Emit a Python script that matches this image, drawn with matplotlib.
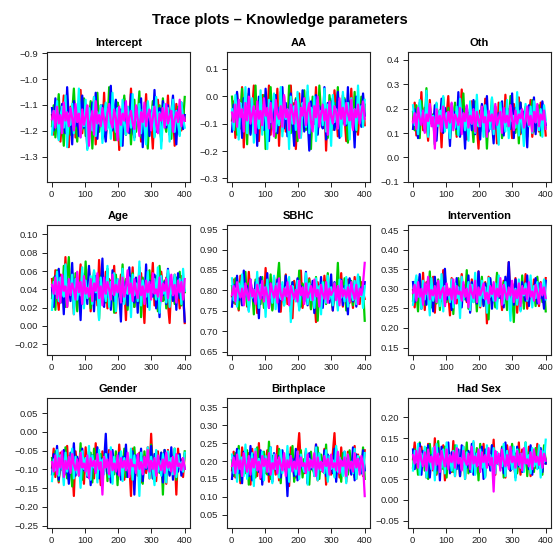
import numpy as np
from matplotlib import pyplot as plt

plt.rcParams['font.family'] = ['Liberation Sans', 'DejaVu Sans']
plt.rcParams['axes.unicode_minus'] = True

##############################################################
# trace plots for the knowledge model, 5 chains x 400 draws
# chains are stored thinned (every 5th draw) on a 0..100 scale,
# 50 = posterior mean of the parameter, 100 units = trace_span
##############################################################

params = ["Intercept", "AA", "Oth", "Age", "SBHC", "Intervention",
          "Gender", "Birthplace", "Had Sex"]

trace_center = [-1.15, -0.065, 0.16, 0.04, 0.795, 0.29, -0.088, 0.19, 0.095]
trace_span = [0.54, 0.58, 0.54, 0.16, 0.315, 0.34, 0.36, 0.40, 0.34]

y_limits = [(-1.397, -0.894), (-0.312, 0.163), (-0.099, 0.434),
            (-0.0317, 0.1102), (0.642, 0.960), (0.131, 0.463),
            (-0.256, 0.090), (0.013, 0.376), (-0.068, 0.247)]

y_ticks = [[-1.3, -1.2, -1.1, -1.0, -0.9],
           [-0.3, -0.2, -0.1, 0.0, 0.1],
           [-0.1, 0.0, 0.1, 0.2, 0.3, 0.4],
           [-0.02, 0.0, 0.02, 0.04, 0.06, 0.08, 0.10],
           [0.65, 0.70, 0.75, 0.80, 0.85, 0.90, 0.95],
           [0.15, 0.20, 0.25, 0.30, 0.35, 0.40, 0.45],
           [-0.25, -0.20, -0.15, -0.10, -0.05, 0.00, 0.05],
           [0.05, 0.10, 0.15, 0.20, 0.25, 0.30, 0.35],
           [-0.05, 0.00, 0.05, 0.10, 0.15, 0.20]]

y_decimals = [1, 1, 1, 2, 2, 2, 2, 2, 2]

x_ticks = [0, 100, 200, 300, 400]

# chains in order: red, green, blue, cyan, magenta
trace_intercept = [
    [52, 38, 61, 45, 57, 33, 49, 66, 41, 55, 29, 58, 47, 63, 36, 51, 44, 70, 39, 54, 60, 42, 35, 57, 48, 65, 31, 53, 46, 59, 40, 68, 37, 50, 56, 43, 62, 34, 47, 58, 27, 52, 45, 64, 38, 55, 49, 71, 42, 36, 57, 46, 61, 33, 50, 44, 67, 39, 53, 48, 28, 56, 41, 63, 47, 35, 59, 52, 44, 66, 38, 49, 55, 30, 60, 46, 53, 41, 57, 48],
    [44, 59, 36, 52, 67, 41, 48, 30, 56, 63, 45, 38, 54, 71, 47, 33, 58, 50, 42, 64, 37, 55, 49, 62, 28, 53, 46, 68, 40, 57, 35, 51, 60, 43, 72, 39, 52, 47, 34, 61, 56, 42, 49, 66, 38, 45, 58, 31, 54, 63, 40, 50, 69, 36, 47, 57, 43, 28, 55, 48, 62, 37, 51, 44, 59, 33, 64, 46, 40, 56, 52, 35, 61, 49, 43, 58, 38, 53, 47, 65],
    [57, 41, 64, 49, 35, 53, 60, 45, 39, 72, 48, 56, 31, 62, 44, 51, 37, 58, 66, 43, 50, 28, 55, 47, 61, 40, 68, 35, 52, 46, 59, 42, 33, 57, 49, 73, 41, 54, 63, 38, 47, 56, 30, 61, 45, 52, 39, 67, 44, 36, 58, 50, 42, 64, 29, 53, 48, 60, 37, 55, 46, 70, 40, 51, 57, 34, 62, 47, 43, 59, 38, 54, 66, 45, 31, 56, 49, 61, 42, 52],
    [38, 55, 47, 62, 34, 51, 58, 43, 66, 29, 53, 45, 60, 39, 56, 48, 71, 36, 52, 44, 63, 27, 57, 49, 41, 65, 37, 54, 46, 59, 32, 50, 61, 42, 55, 35, 68, 47, 40, 57, 52, 30, 63, 45, 38, 58, 50, 43, 67, 34, 53, 48, 60, 39, 56, 44, 31, 62, 51, 47, 58, 36, 65, 42, 54, 28, 49, 60, 45, 57, 33, 52, 63, 40, 55, 46, 37, 61, 50, 43],
    [49, 55, 43, 58, 46, 52, 39, 61, 48, 54, 44, 57, 50, 41, 60, 47, 53, 36, 56, 45, 51, 59, 30, 48, 55, 38, 62, 46, 52, 44, 57, 49, 41, 54, 60, 47, 43, 56, 50, 34, 58, 45, 53, 48, 62, 40, 51, 55, 46, 42, 59, 49, 37, 54, 47, 61, 44, 52, 56, 41, 50, 58, 45, 39, 53, 48, 57, 43, 60, 46, 51, 55, 40, 49, 54, 47, 63, 44, 52, 48]]

trace_aa = [
    [46, 58, 35, 63, 50, 41, 67, 29, 55, 48, 60, 38, 52, 68, 44, 57, 33, 49, 62, 40, 54, 46, 68, 37, 58, 51, 43, 66, 30, 56, 47, 61, 39, 53, 45, 68, 42, 57, 28, 50, 63, 36, 55, 48, 41, 64, 52, 34, 59, 45, 67, 38, 56, 49, 43, 61, 27, 53, 47, 58, 40, 65, 51, 36, 57, 44, 62, 48, 33, 55, 46, 66, 41, 52, 59, 37, 54, 47, 60, 43],
    [61, 44, 52, 37, 59, 48, 66, 40, 55, 31, 63, 47, 53, 42, 68, 36, 57, 50, 45, 62, 28, 54, 49, 67, 41, 58, 35, 52, 46, 64, 39, 56, 51, 43, 68, 38, 55, 48, 60, 33, 57, 45, 50, 65, 40, 53, 47, 28, 61, 44, 56, 38, 68, 50, 42, 59, 46, 35, 62, 53, 41, 57, 48, 67, 37, 55, 44, 60, 49, 32, 58, 51, 43, 64, 39, 54, 47, 61, 45, 56],
    [39, 56, 48, 64, 42, 53, 35, 60, 50, 45, 66, 37, 57, 43, 52, 30, 61, 47, 55, 40, 66, 49, 33, 58, 44, 51, 62, 38, 54, 46, 67, 41, 57, 36, 50, 63, 45, 30, 59, 48, 53, 42, 65, 39, 56, 47, 27, 58, 51, 44, 62, 37, 55, 49, 41, 67, 34, 57, 46, 53, 60, 40, 48, 64, 35, 52, 45, 59, 43, 67, 38, 54, 50, 29, 61, 47, 56, 42, 63, 49],
    [53, 40, 62, 47, 34, 57, 51, 44, 67, 38, 55, 46, 60, 32, 52, 48, 41, 65, 37, 56, 49, 28, 59, 45, 54, 63, 39, 50, 43, 67, 36, 58, 47, 53, 28, 61, 44, 55, 40, 64, 48, 35, 57, 51, 42, 68, 38, 54, 46, 61, 33, 59, 47, 52, 43, 66, 39, 56, 50, 30, 62, 45, 53, 41, 58, 36, 64, 49, 44, 57, 34, 60, 48, 53, 40, 68, 46, 55, 42, 59],
    [51, 45, 56, 42, 59, 48, 53, 39, 57, 46, 61, 44, 50, 55, 38, 58, 47, 52, 43, 60, 49, 54, 41, 57, 45, 36, 59, 50, 47, 55, 42, 62, 48, 53, 40, 56, 51, 44, 58, 46, 35, 54, 49, 60, 43, 52, 57, 45, 39, 55, 48, 61, 42, 50, 56, 46, 53, 37, 58, 49, 44, 55, 51, 41, 60, 47, 54, 43, 57, 50, 46, 59, 40, 53, 48, 56, 44, 51, 58, 47]]

trace_oth = [
    [48, 62, 37, 55, 44, 70, 41, 58, 50, 33, 64, 46, 53, 39, 61, 47, 56, 28, 59, 43, 52, 67, 38, 55, 45, 60, 36, 51, 49, 72, 42, 57, 34, 54, 47, 63, 40, 58, 45, 27, 56, 50, 43, 65, 37, 53, 48, 60, 41, 55, 31, 62, 46, 52, 39, 68, 44, 57, 49, 35, 61, 53, 42, 66, 38, 56, 47, 59, 43, 50, 64, 36, 54, 45, 58, 40, 62, 48, 53, 37],
    [55, 41, 60, 47, 35, 63, 52, 44, 73, 39, 57, 48, 53, 30, 61, 45, 56, 40, 66, 50, 43, 58, 34, 54, 47, 62, 38, 59, 46, 51, 69, 37, 55, 42, 58, 49, 32, 63, 45, 53, 40, 60, 47, 56, 27, 52, 44, 65, 38, 57, 50, 42, 61, 35, 54, 48, 59, 41, 67, 46, 53, 39, 56, 31, 62, 49, 44, 58, 36, 55, 47, 64, 40, 52, 45, 60, 37, 57, 51, 43],
    [42, 57, 49, 35, 62, 46, 54, 40, 68, 37, 56, 51, 44, 60, 33, 53, 47, 65, 39, 58, 45, 52, 29, 61, 48, 55, 42, 70, 36, 57, 50, 27, 59, 46, 53, 41, 64, 38, 56, 48, 34, 61, 52, 45, 67, 40, 55, 47, 31, 59, 43, 54, 49, 63, 37, 57, 46, 52, 42, 69, 35, 58, 50, 44, 62, 39, 55, 47, 28, 60, 51, 43, 66, 38, 56, 48, 41, 63, 53, 45],
    [60, 45, 53, 38, 64, 48, 55, 42, 71, 36, 58, 47, 52, 31, 62, 44, 56, 49, 67, 40, 54, 46, 35, 61, 50, 43, 59, 37, 65, 48, 53, 41, 57, 33, 63, 46, 55, 39, 68, 44, 51, 58, 36, 60, 47, 53, 42, 66, 38, 57, 49, 30, 62, 45, 54, 40, 64, 35, 58, 48, 52, 43, 70, 37, 56, 46, 29, 61, 50, 44, 59, 39, 63, 47, 55, 41, 57, 36, 60, 49],
    [47, 54, 42, 58, 50, 45, 56, 39, 53, 48, 61, 44, 51, 27, 57, 46, 52, 40, 59, 49, 43, 55, 47, 62, 41, 53, 50, 45, 58, 38, 54, 48, 60, 43, 52, 46, 57, 40, 55, 49, 44, 59, 47, 51, 36, 56, 48, 53, 42, 61, 45, 50, 55, 39, 58, 47, 52, 44, 60, 49, 41, 56, 46, 53, 50, 57, 43, 48, 59, 45, 52, 40, 55, 47, 61, 44, 53, 49, 56, 42]]

trace_age = [
    [57, 42, 63, 48, 36, 60, 51, 45, 72, 38, 55, 47, 61, 33, 58, 44, 52, 67, 40, 56, 49, 43, 64, 35, 54, 46, 59, 39, 70, 48, 53, 41, 62, 37, 57, 45, 50, 66, 34, 55, 47, 60, 42, 53, 29, 58, 49, 44, 65, 38, 56, 51, 41, 61, 46, 27, 57, 43, 52, 48, 68, 39, 55, 45, 35, 62, 50, 43, 58, 40, 27, 55, 47, 60, 44, 53, 37, 59, 48, 27],
    [44, 58, 36, 63, 49, 54, 41, 66, 38, 57, 72, 46, 52, 43, 61, 35, 56, 48, 53, 40, 69, 45, 58, 37, 51, 62, 43, 55, 30, 59, 47, 52, 41, 64, 39, 56, 49, 34, 60, 45, 53, 48, 67, 42, 57, 36, 54, 46, 61, 38, 50, 43, 65, 31, 58, 47, 55, 40, 63, 48, 52, 44, 59, 35, 66, 49, 42, 56, 37, 61, 45, 53, 50, 40, 58, 46, 62, 39, 54, 48],
    [51, 38, 59, 45, 64, 41, 55, 33, 62, 48, 53, 42, 68, 37, 57, 46, 50, 29, 61, 44, 56, 40, 66, 47, 52, 35, 59, 43, 55, 49, 71, 38, 58, 45, 53, 36, 63, 42, 50, 57, 47, 28, 60, 44, 55, 39, 65, 48, 52, 41, 58, 34, 62, 46, 54, 43, 67, 38, 56, 49, 45, 60, 37, 53, 31, 59, 46, 55, 40, 64, 47, 51, 42, 58, 36, 61, 44, 56, 49, 28],
    [36, 55, 47, 62, 42, 58, 50, 45, 67, 39, 54, 48, 60, 33, 57, 43, 52, 46, 65, 37, 56, 44, 51, 59, 40, 63, 48, 53, 29, 58, 45, 50, 42, 66, 38, 55, 47, 61, 35, 57, 49, 44, 64, 40, 52, 47, 58, 31, 60, 46, 54, 42, 69, 39, 56, 50, 45, 62, 36, 53, 48, 57, 43, 65, 34, 59, 47, 52, 41, 63, 38, 55, 46, 60, 44, 51, 57, 40, 64, 49],
    [53, 47, 58, 44, 55, 41, 60, 49, 52, 38, 57, 46, 54, 50, 43, 62, 48, 55, 40, 59, 47, 51, 45, 57, 42, 54, 49, 61, 44, 52, 39, 58, 47, 55, 50, 43, 60, 46, 53, 48, 56, 41, 58, 45, 51, 63, 47, 54, 42, 57, 49, 44, 59, 46, 52, 40, 56, 48, 55, 43, 61, 47, 50, 45, 58, 42, 54, 49, 57, 44, 52, 60, 46, 53, 41, 56, 48, 55, 43, 57]]

trace_sbhc = [
    [47, 60, 41, 55, 36, 63, 50, 44, 58, 39, 66, 48, 53, 42, 57, 34, 61, 46, 52, 40, 69, 45, 56, 49, 37, 62, 51, 43, 58, 35, 55, 47, 64, 41, 53, 48, 30, 59, 46, 54, 42, 67, 38, 56, 50, 44, 61, 37, 55, 47, 27, 58, 45, 52, 40, 63, 49, 54, 43, 59, 36, 57, 48, 51, 44, 65, 39, 55, 46, 60, 42, 53, 38, 62, 47, 56, 41, 58, 50, 45],
    [55, 42, 61, 48, 37, 58, 53, 44, 66, 40, 57, 49, 52, 33, 60, 46, 55, 41, 62, 38, 56, 50, 43, 64, 36, 54, 47, 59, 73, 45, 52, 40, 63, 48, 55, 35, 58, 46, 51, 44, 67, 39, 57, 48, 53, 42, 60, 37, 56, 45, 62, 28, 54, 49, 43, 58, 41, 65, 47, 52, 38, 57, 46, 73, 42, 55, 48, 61, 36, 53, 45, 59, 40, 56, 50, 43, 62, 47, 54, 28],
    [39, 56, 48, 63, 44, 53, 40, 67, 47, 55, 36, 60, 49, 43, 58, 51, 30, 62, 46, 54, 41, 65, 38, 57, 48, 52, 44, 60, 35, 56, 49, 42, 63, 47, 53, 39, 58, 45, 51, 61, 37, 55, 48, 43, 66, 40, 54, 46, 59, 34, 57, 50, 44, 62, 38, 53, 47, 56, 42, 64, 36, 58, 49, 51, 45, 60, 40, 55, 47, 33, 61, 52, 43, 57, 39, 63, 48, 54, 46, 58],
    [61, 44, 53, 39, 57, 47, 64, 41, 55, 50, 35, 59, 46, 52, 43, 66, 38, 56, 48, 54, 31, 60, 45, 51, 42, 63, 37, 57, 49, 45, 58, 40, 54, 47, 62, 27, 55, 48, 43, 59, 36, 53, 50, 46, 65, 41, 57, 44, 52, 38, 61, 47, 55, 33, 58, 49, 42, 63, 45, 54, 40, 57, 48, 36, 60, 46, 53, 43, 62, 39, 56, 49, 44, 59, 41, 64, 47, 52, 38, 55],
    [48, 55, 43, 58, 50, 46, 53, 40, 57, 49, 44, 60, 47, 52, 41, 56, 50, 45, 59, 43, 54, 48, 38, 57, 51, 46, 55, 42, 61, 49, 44, 53, 47, 58, 40, 55, 50, 45, 52, 43, 59, 48, 54, 41, 57, 46, 50, 55, 44, 60, 47, 52, 39, 56, 49, 45, 58, 42, 53, 48, 51, 57, 44, 55, 40, 59, 47, 52, 46, 54, 43, 58, 50, 45, 56, 41, 53, 48, 57, 73]]

trace_intervention = [
    [52, 39, 60, 46, 55, 42, 65, 37, 58, 48, 53, 41, 62, 35, 57, 47, 50, 44, 67, 40, 56, 49, 33, 61, 45, 54, 42, 59, 38, 64, 47, 52, 43, 57, 36, 60, 48, 55, 41, 66, 39, 53, 46, 58, 27, 62, 50, 44, 56, 40, 63, 47, 52, 37, 59, 45, 54, 73, 43, 57, 48, 61, 35, 55, 46, 51, 42, 64, 38, 56, 49, 44, 60, 47, 53, 40, 58, 45, 52, 61],
    [44, 58, 50, 36, 62, 47, 53, 41, 57, 45, 66, 39, 55, 48, 42, 60, 37, 54, 49, 63, 43, 52, 46, 58, 34, 56, 47, 61, 40, 53, 50, 45, 67, 38, 55, 48, 43, 59, 36, 54, 47, 62, 41, 57, 49, 30, 60, 44, 53, 39, 65, 46, 55, 42, 58, 50, 37, 61, 47, 52, 28, 57, 45, 54, 41, 63, 38, 56, 48, 44, 59, 47, 53, 40, 62, 46, 55, 43, 57, 36],
    [58, 43, 54, 47, 64, 38, 56, 50, 41, 60, 46, 53, 36, 62, 48, 55, 44, 59, 40, 68, 45, 52, 49, 37, 57, 43, 61, 47, 54, 39, 56, 51, 44, 63, 35, 58, 47, 53, 42, 66, 48, 55, 40, 57, 45, 51, 61, 38, 54, 48, 43, 59, 46, 52, 39, 62, 50, 73, 47, 56, 41, 60, 45, 53, 37, 58, 49, 44, 63, 40, 55, 47, 52, 61, 42, 57, 46, 50, 38, 59],
    [41, 55, 63, 47, 52, 38, 59, 45, 56, 49, 33, 61, 44, 53, 47, 58, 40, 64, 36, 55, 48, 51, 43, 60, 39, 57, 46, 54, 31, 62, 45, 52, 48, 58, 37, 56, 43, 65, 49, 50, 40, 59, 46, 54, 35, 61, 47, 52, 44, 57, 38, 63, 49, 55, 42, 58, 45, 50, 29, 56, 47, 53, 41, 60, 36, 54, 48, 57, 44, 51, 63, 39, 55, 46, 58, 42, 53, 49, 60, 45],
    [50, 56, 44, 58, 47, 53, 41, 57, 49, 62, 45, 52, 48, 55, 43, 59, 46, 51, 54, 40, 57, 48, 53, 45, 60, 42, 55, 49, 51, 44, 58, 47, 53, 39, 56, 50, 46, 59, 43, 54, 48, 52, 57, 45, 50, 42, 55, 49, 58, 44, 53, 47, 61, 41, 56, 50, 45, 54, 48, 59, 43, 52, 46, 57, 40, 55, 49, 53, 45, 58, 47, 51, 44, 56, 50, 42, 57, 48, 54, 46]]

trace_gender = [
    [48, 62, 41, 55, 37, 59, 46, 53, 43, 64, 39, 56, 50, 27, 60, 45, 54, 42, 58, 36, 63, 47, 52, 44, 57, 40, 66, 48, 53, 35, 60, 46, 55, 43, 61, 38, 57, 49, 52, 41, 65, 47, 54, 39, 58, 45, 51, 27, 62, 48, 55, 42, 59, 37, 56, 50, 44, 63, 40, 73, 46, 52, 38, 60, 47, 55, 43, 58, 36, 61, 49, 53, 44, 57, 28, 62, 48, 54, 41, 58],
    [55, 43, 60, 48, 38, 57, 52, 45, 63, 40, 56, 49, 34, 61, 46, 53, 42, 66, 39, 55, 48, 51, 44, 59, 37, 62, 47, 54, 41, 58, 50, 45, 64, 38, 56, 47, 52, 43, 60, 35, 57, 49, 46, 62, 41, 54, 48, 56, 39, 63, 45, 51, 44, 58, 36, 60, 47, 53, 42, 65, 40, 55, 48, 52, 44, 59, 28, 61, 49, 54, 43, 57, 46, 62, 39, 56, 48, 53, 45, 60],
    [43, 58, 50, 64, 39, 55, 47, 61, 44, 53, 36, 59, 48, 66, 42, 56, 50, 38, 62, 46, 54, 41, 60, 35, 57, 49, 45, 63, 40, 55, 48, 52, 73, 44, 58, 37, 61, 47, 54, 43, 59, 39, 56, 48, 65, 41, 53, 46, 60, 28, 57, 49, 44, 62, 38, 55, 47, 51, 43, 64, 40, 58, 48, 53, 45, 59, 37, 61, 46, 54, 42, 63, 39, 56, 50, 45, 58, 42, 55, 47],
    [38, 54, 46, 61, 42, 57, 50, 35, 59, 45, 53, 48, 62, 40, 56, 44, 51, 33, 60, 47, 55, 42, 64, 39, 57, 48, 53, 37, 61, 46, 54, 43, 58, 50, 41, 63, 36, 56, 48, 52, 45, 60, 38, 55, 47, 51, 43, 62, 39, 57, 46, 54, 27, 59, 44, 52, 48, 63, 40, 56, 47, 35, 61, 45, 53, 42, 58, 49, 37, 60, 46, 55, 43, 62, 41, 57, 48, 52, 45, 59],
    [52, 45, 57, 43, 55, 48, 60, 41, 53, 47, 56, 44, 58, 50, 46, 54, 42, 59, 48, 51, 45, 57, 40, 55, 49, 53, 44, 58, 47, 52, 28, 56, 48, 54, 43, 60, 46, 51, 45, 57, 42, 55, 48, 53, 46, 59, 41, 54, 49, 50, 44, 58, 47, 52, 43, 56, 48, 61, 45, 53, 47, 55, 42, 57, 50, 46, 54, 44, 59, 48, 52, 45, 56, 43, 58, 49, 51, 46, 55, 47]]

trace_birthplace = [
    [46, 59, 41, 55, 50, 37, 62, 48, 54, 43, 58, 36, 61, 47, 53, 42, 65, 40, 56, 49, 44, 60, 38, 57, 46, 52, 43, 63, 39, 55, 48, 51, 45, 59, 35, 62, 47, 54, 41, 58, 72, 49, 53, 44, 60, 37, 56, 47, 52, 42, 64, 39, 57, 48, 45, 61, 36, 55, 50, 43, 58, 72, 47, 53, 41, 62, 45, 56, 38, 59, 48, 52, 44, 63, 40, 57, 46, 54, 42, 60],
    [53, 42, 58, 47, 63, 39, 55, 49, 44, 60, 36, 57, 48, 52, 41, 62, 45, 54, 38, 59, 50, 43, 66, 40, 56, 47, 51, 44, 61, 37, 58, 49, 53, 42, 57, 46, 63, 38, 55, 48, 45, 60, 41, 54, 47, 52, 36, 59, 46, 55, 43, 62, 40, 57, 49, 44, 64, 39, 53, 48, 56, 42, 61, 45, 52, 38, 58, 47, 54, 43, 60, 46, 51, 41, 57, 49, 55, 44, 62, 40],
    [40, 56, 48, 61, 44, 53, 37, 59, 46, 54, 42, 63, 39, 57, 48, 52, 45, 60, 36, 55, 47, 53, 43, 62, 38, 58, 49, 44, 56, 41, 60, 47, 52, 28, 57, 46, 54, 42, 61, 39, 56, 48, 51, 45, 59, 37, 58, 47, 53, 43, 64, 40, 55, 49, 46, 60, 42, 57, 48, 52, 44, 61, 38, 56, 47, 53, 45, 59, 41, 55, 50, 43, 62, 39, 57, 48, 54, 44, 60, 46],
    [57, 44, 52, 38, 60, 47, 55, 42, 64, 40, 53, 48, 58, 35, 61, 46, 54, 43, 59, 39, 56, 49, 45, 62, 37, 57, 47, 53, 41, 60, 44, 55, 48, 63, 38, 56, 46, 52, 43, 59, 40, 57, 49, 45, 61, 36, 54, 48, 53, 42, 62, 39, 58, 46, 51, 44, 60, 38, 56, 47, 53, 41, 63, 45, 55, 49, 42, 59, 37, 57, 48, 52, 44, 61, 40, 56, 47, 54, 43, 58],
    [49, 55, 44, 57, 47, 53, 42, 58, 50, 45, 56, 43, 54, 48, 59, 46, 52, 41, 56, 49, 54, 45, 58, 43, 51, 47, 57, 44, 55, 50, 46, 58, 42, 53, 48, 56, 45, 52, 47, 59, 43, 55, 49, 51, 44, 57, 46, 53, 48, 58, 42, 55, 47, 52, 45, 56, 49, 54, 43, 57, 48, 51, 46, 59, 44, 53, 49, 55, 42, 57, 47, 52, 45, 58, 48, 54, 43, 56, 50, 28]]

trace_hadsex = [
    [51, 63, 45, 58, 41, 60, 49, 55, 38, 62, 47, 54, 43, 66, 40, 57, 50, 45, 61, 36, 58, 48, 53, 42, 64, 39, 56, 47, 52, 44, 60, 37, 57, 49, 54, 43, 63, 41, 55, 48, 50, 45, 62, 39, 58, 47, 53, 44, 65, 40, 56, 49, 51, 46, 59, 38, 61, 50, 43, 57, 47, 54, 42, 63, 40, 58, 48, 55, 44, 60, 39, 56, 50, 45, 62, 47, 53, 42, 59, 48],
    [45, 58, 52, 40, 63, 48, 55, 43, 59, 37, 62, 50, 46, 56, 41, 64, 47, 53, 44, 60, 38, 57, 49, 54, 42, 61, 46, 52, 39, 58, 50, 45, 63, 41, 56, 48, 53, 44, 59, 36, 62, 47, 55, 43, 57, 50, 46, 61, 40, 54, 48, 52, 45, 60, 38, 57, 49, 53, 43, 62, 46, 55, 41, 58, 47, 51, 44, 63, 39, 56, 48, 54, 42, 59, 50, 45, 57, 40, 61, 49],
    [58, 44, 55, 48, 62, 40, 57, 50, 45, 61, 38, 54, 47, 53, 43, 59, 36, 60, 49, 52, 46, 63, 41, 56, 48, 55, 44, 58, 39, 61, 47, 53, 45, 57, 42, 62, 40, 55, 49, 51, 44, 60, 37, 58, 46, 54, 43, 61, 39, 56, 48, 52, 45, 59, 41, 63, 47, 54, 43, 57, 50, 38, 60, 46, 55, 42, 58, 48, 53, 44, 61, 40, 56, 49, 52, 45, 59, 42, 57, 48],
    [43, 57, 49, 62, 40, 55, 47, 60, 38, 56, 51, 44, 59, 36, 62, 48, 53, 45, 58, 41, 63, 47, 54, 43, 57, 39, 61, 49, 52, 44, 60, 37, 56, 48, 53, 42, 64, 40, 55, 47, 58, 45, 51, 38, 61, 49, 54, 43, 59, 41, 56, 48, 52, 46, 62, 39, 57, 47, 53, 44, 60, 36, 58, 50, 45, 55, 42, 63, 48, 54, 41, 59, 46, 52, 44, 61, 38, 57, 49, 65],
    [54, 48, 57, 45, 59, 50, 46, 56, 43, 58, 49, 53, 44, 60, 47, 55, 42, 57, 51, 46, 58, 44, 54, 49, 56, 45, 59, 48, 52, 43, 57, 50, 47, 55, 44, 60, 48, 53, 46, 58, 42, 56, 49, 54, 45, 59, 47, 52, 28, 57, 48, 55, 43, 58, 50, 46, 54, 44, 60, 49, 53, 45, 57, 47, 55, 43, 59, 48, 51, 46, 56, 44, 58, 49, 53, 47, 57, 45, 55, 50]]

traces = [trace_intercept, trace_aa, trace_oth, trace_age, trace_sbhc,
          trace_intervention, trace_gender, trace_birthplace, trace_hadsex]

chain_colors = ["#FF0000", "#00CD00", "#0000FF", "#00FFFF", "#FF00FF"]

fig = plt.figure(figsize=(5.6, 5.56), dpi=100)

# panel positions in figure fraction
col_left = [0.0834, 0.4048, 0.728]
row_bottom = [0.6732, 0.3615, 0.0504]
panel_w = 0.256
panel_h = 0.2338

for k, name in enumerate(params):
    ax = fig.add_axes([col_left[k % 3], row_bottom[k // 3], panel_w, panel_h])
    for chain, color in zip(traces[k], chain_colors):
        y = trace_center[k] + (np.array(chain) - 50) / 100.0 * trace_span[k]
        x = np.linspace(1, 400, len(y))
        ax.plot(x, y, color=color, linewidth=1.6)

    ax.set_xlim(-15, 416)
    ax.set_ylim(*y_limits[k])
    ax.set_xticks(x_ticks)
    ax.set_xticklabels([str(t) for t in x_ticks])
    fmt = "{:.%df}" % y_decimals[k]
    ax.set_yticks(y_ticks[k])
    ax.set_yticklabels([fmt.format(t).replace("-", "\u2212") for t in y_ticks[k]])
    ax.tick_params(axis="both", direction="out", length=3.5, width=0.7,
                   labelsize=6.8, pad=2.5, colors="#222222")
    for spine in ax.spines.values():
        spine.set_linewidth(0.8)
        spine.set_color("#222222")
    ax.set_title(name, fontsize=8, fontweight="bold", pad=4)

fig.suptitle("Trace plots \u2013 Knowledge parameters", fontsize=10.5,
             fontweight="bold", y=0.977)

plt.savefig("out.png", dpi=100)
